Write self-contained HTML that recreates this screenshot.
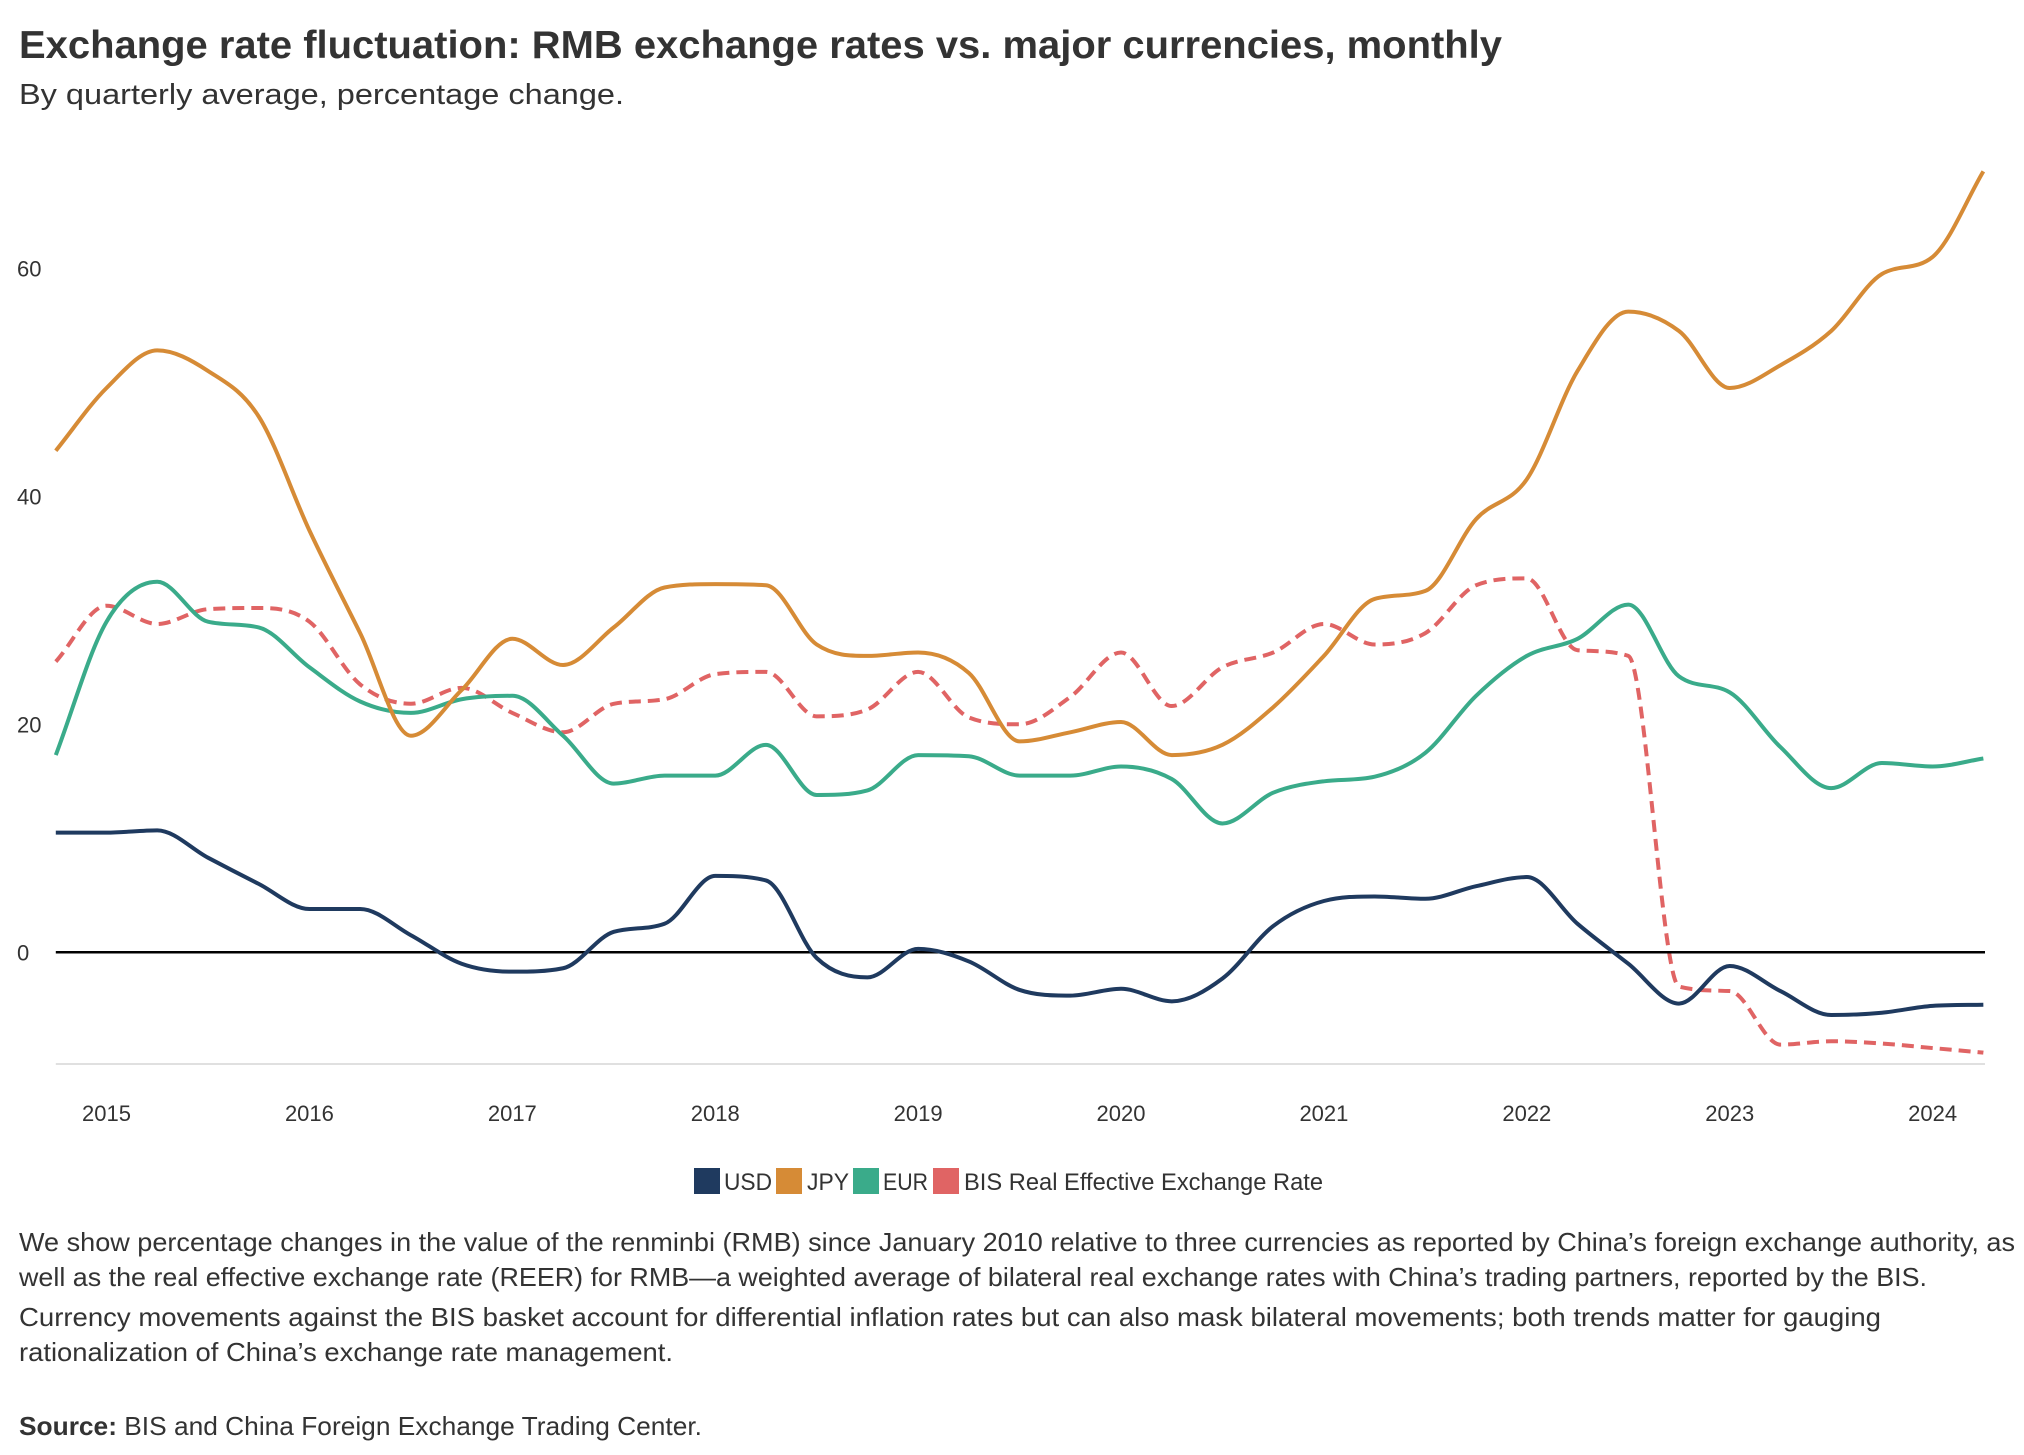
<!DOCTYPE html>
<html><head><meta charset="utf-8"><style>
html,body{margin:0;padding:0;background:#fff;}
svg{display:block;font-family:"Liberation Sans",sans-serif;}
</style></head><body>
<svg id="chart" width="2024" height="1455" viewBox="0 0 2024 1455">
<text x="19" y="58" font-size="39" font-weight="bold" fill="#333" textLength="1483" lengthAdjust="spacingAndGlyphs">Exchange rate fluctuation: RMB exchange rates vs. major currencies, monthly</text>
<text x="19" y="104" font-size="29" fill="#333" textLength="605" lengthAdjust="spacingAndGlyphs">By quarterly average, percentage change.</text>
<g id="grid"></g>
<g id="series"></g>
<g>
<rect x="694" y="1168" width="26" height="26" fill="#1f3a5f"/>
<text x="724" y="1190" font-size="24" fill="#333" textLength="48" lengthAdjust="spacingAndGlyphs">USD</text>
<rect x="776" y="1168" width="26" height="26" fill="#d68b36"/>
<text x="807" y="1190" font-size="24" fill="#333" textLength="42" lengthAdjust="spacingAndGlyphs">JPY</text>
<rect x="853" y="1168" width="26" height="26" fill="#3aab8a"/>
<text x="883" y="1190" font-size="24" fill="#333" textLength="45" lengthAdjust="spacingAndGlyphs">EUR</text>
<rect x="933" y="1168" width="26" height="26" fill="#e06464"/>
<text x="964" y="1190" font-size="24" fill="#333" textLength="359" lengthAdjust="spacingAndGlyphs">BIS Real Effective Exchange Rate</text>
</g>
<g font-size="26" fill="#333">
<text x="19" y="1251" textLength="1996" lengthAdjust="spacingAndGlyphs">We show percentage changes in the value of the renminbi (RMB) since January 2010 relative to three currencies as reported by China’s foreign exchange authority, as</text>
<text x="19" y="1286" textLength="1908" lengthAdjust="spacingAndGlyphs">well as the real effective exchange rate (REER) for RMB—a weighted average of bilateral real exchange rates with China’s trading partners, reported by the BIS.</text>
<text x="19" y="1326" textLength="1862" lengthAdjust="spacingAndGlyphs">Currency movements against the BIS basket account for differential inflation rates but can also mask bilateral movements; both trends matter for gauging</text>
<text x="19" y="1361" textLength="654" lengthAdjust="spacingAndGlyphs">rationalization of China’s exchange rate management.</text>
<text x="19" y="1435" textLength="683" lengthAdjust="spacingAndGlyphs"><tspan font-weight="bold">Source:</tspan> BIS and China Foreign Exchange Trading Center.</text>
</g>
</svg>
<script>
const startYear = 2014.75;
const step = 0.25;
const usd = [10.5,10.5,10.7,8.3,6,3.8,3.8,1.5,-1,-1.7,-1.4,1.8,2.5,6.7,6.3,-0.5,-2.2,0.3,-0.8,-3.3,-3.8,-3.2,-4.3,-2.3,2.3,4.5,4.9,4.7,5.8,6.6,2.5,-1,-4.5,-1.2,-3.4,-5.5,-5.3,-4.7,-4.6];
const jpy = [44,49.5,52.8,51,47,37,28,19,23,27.5,25.2,28.5,32,32.3,32.2,27,26,26.3,24.5,18.5,19.3,20.2,17.3,18.2,21.5,26,31,31.7,38,41.5,51,56.2,54.5,49.5,51.5,54.5,59.5,61,68.5];
const eur = [17.3,29,32.5,29,28.5,25,22,21,22.2,22.5,19,14.8,15.5,15.5,18.2,13.8,14.2,17.3,17.2,15.5,15.5,16.3,15.2,11.3,14,15,15.4,17.5,22.5,26,27.5,30.5,24.2,22.8,18,14.4,16.6,16.3,17];
const bis = [25.5,30.4,28.8,30.1,30.2,29,23.5,21.8,23.2,21,19.3,21.8,22.2,24.4,24.6,20.7,21.3,24.6,20.6,20,22.4,26.3,21.6,25,26.3,28.8,27,28,32.2,32.8,26.5,26,-3,-3.4,-8.1,-7.8,-8,-8.4,-8.8];
const yTicks = [0,20,40,60];
const xYears = [2015,2016,2017,2018,2019,2020,2021,2022,2023,2024];

const NS='http://www.w3.org/2000/svg';
function xs(t){return 55.8+(t-2014.75)*202.9;}
function ys(v){return 952.3-v*11.40;}
function mk(tag,attrs,parent){const e=document.createElementNS(NS,tag);for(const k in attrs)e.setAttribute(k,attrs[k]);parent.appendChild(e);return e;}
const grid=document.getElementById('grid'), ser=document.getElementById('series');

const base=mk('line',{x1:55.8,x2:1985,y1:1064,y2:1064,stroke:'#e0e0e0','stroke-width':2},grid);


yTicks.forEach(v=>{
  const t=mk('text',{x:17,y:ys(v)+8,'font-size':22,fill:'#333'},grid);
  t.textContent=v;
  
  
});
xYears.forEach(yr=>{
  const t=mk('text',{x:xs(yr),y:1121,'font-size':22,fill:'#333','text-anchor':'middle'},grid);
  t.textContent=yr;
  
  
});

function monotonePath(pts){
  const n=pts.length,d=[],m=[];
  for(let i=0;i<n-1;i++)d.push((pts[i+1][1]-pts[i][1])/(pts[i+1][0]-pts[i][0]));
  m[0]=d[0];m[n-1]=d[n-2];
  for(let i=1;i<n-1;i++){m[i]=(d[i-1]*d[i]<=0)?0:(d[i-1]+d[i])/2;}
  for(let i=0;i<n-1;i++){if(d[i]===0){m[i]=0;m[i+1]=0;continue;}const a=m[i]/d[i],b=m[i+1]/d[i],s=a*a+b*b;if(s>9){const tt=3/Math.sqrt(s);m[i]=tt*a*d[i];m[i+1]=tt*b*d[i];}}
  let p='M'+pts[0][0]+','+pts[0][1];
  for(let i=0;i<n-1;i++){const h=(pts[i+1][0]-pts[i][0])/3;
    p+=' C'+(pts[i][0]+h)+','+(pts[i][1]+m[i]*h)+' '+(pts[i+1][0]-h)+','+(pts[i+1][1]-m[i+1]*h)+' '+pts[i+1][0]+','+pts[i+1][1];}
  return p;
}
function draw(arr,color,name,dash){
  const pts=arr.map((v,i)=>[xs(startYear+i*step),ys(v)]);
  const p=mk('path',{d:monotonePath(pts),fill:'none',stroke:color,'stroke-width':4,'stroke-linejoin':'round'},ser);
  if(dash)p.setAttribute('stroke-dasharray',dash);
  
  
}
draw(bis,'#e06464','line-bis-reer','12,7');
draw(eur,'#3aab8a','line-eur');
draw(jpy,'#d68b36','line-jpy');
const zero=mk('line',{x1:55.8,x2:1985,y1:ys(0),y2:ys(0),stroke:'#000','stroke-width':2.5},ser);


draw(usd,'#1f3a5f','line-usd');
</script>
</body></html>
